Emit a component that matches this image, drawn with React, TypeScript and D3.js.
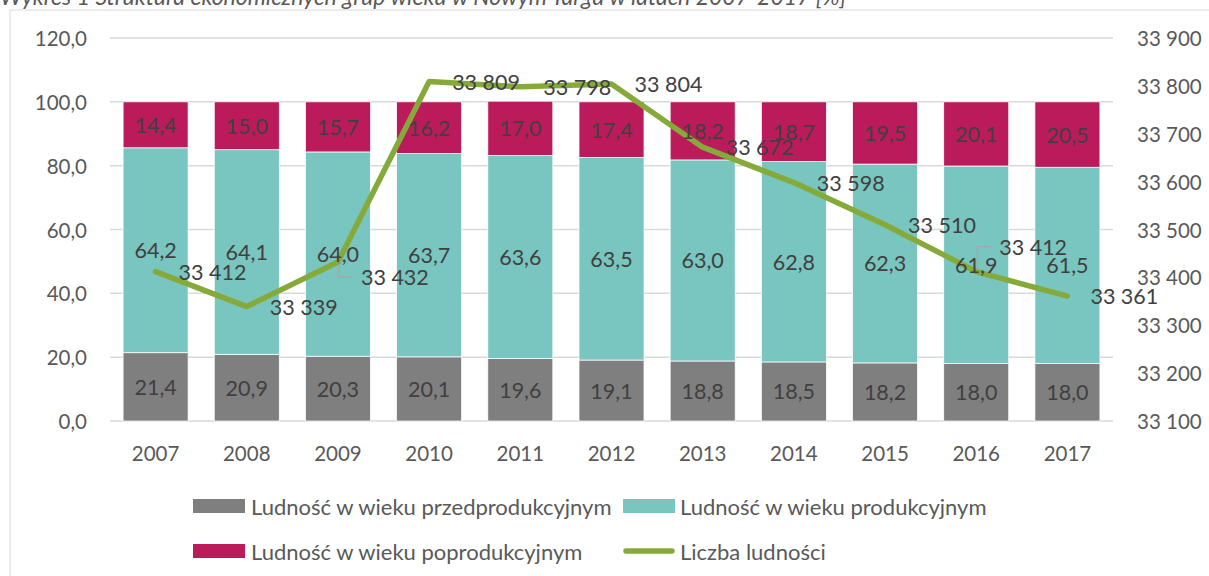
import React from "react";
import * as d3 from "d3";

const years = ["2007", "2008", "2009", "2010", "2011", "2012", "2013", "2014", "2015", "2016", "2017"];
const preProd = [21.4, 20.9, 20.3, 20.1, 19.6, 19.1, 18.8, 18.5, 18.2, 18.0, 18.0];
const prod = [64.2, 64.1, 64.0, 63.7, 63.6, 63.5, 63.0, 62.8, 62.3, 61.9, 61.5];
const postProd = [14.4, 15.0, 15.7, 16.2, 17.0, 17.4, 18.2, 18.7, 19.5, 20.1, 20.5];
const population = [33412, 33339, 33432, 33809, 33798, 33804, 33672, 33598, 33510, 33412, 33361];
const leftTicks = [0, 20, 40, 60, 80, 100, 120];
const rightTicks = [33100, 33200, 33300, 33400, 33500, 33600, 33700, 33800, 33900];
const seriesNames = [
  "Ludność w wieku przedprodukcyjnym",
  "Ludność w wieku produkcyjnym",
  "Ludność w wieku poprodukcyjnym",
  "Liczba ludności",
];
const title = "Wykres 1 Struktura ekonomicznych grup wieku w Nowym Targu w latach 2007-2017 [%]";

// label vertical shifts (Excel moved two labels manually)
const popLabelShift = [0, 0, 15, 0, 0, 0, 0, 0, 0, -25, 0];

const COLORS = ["#7f7f7f", "#79c5bf", "#bb1b5b"];
const LINE = "#86aa39";
const FONT = "Lato, 'Open Sans', sans-serif";

const fmtPct = (v: number) => d3.format(".1f")(v).replace(".", ",");
const fmtPop = (v: number) => d3.format(",")(v).replace(/,/g, " ");

export default function App() {
  const W = 1209;
  const H = 576;
  const x = d3.scaleBand<string>().domain(years).range([110, 1113]).paddingInner(0.287).paddingOuter(0.1435);
  const yL = d3.scaleLinear().domain([0, 120]).range([421, 38]);
  const yR = d3.scaleLinear().domain([33100, 33900]).range([421, 38]);

  const rows = years.map((yr, i) => ({ yr, a: preProd[i], b: prod[i], c: postProd[i] }));
  const stack = d3.stack<any>().keys(["a", "b", "c"])(rows);

  const line = d3
    .line<number>()
    .x((_, i) => (x(years[i]) as number) + x.bandwidth() / 2)
    .y((d) => yR(d));

  const fs = 20.5;
  const dfs = 21.5;
  const lfs = 22;

  return (
    <svg width={W} height={H} style={{ position: "absolute", left: 0, top: 0, fontFamily: FONT }}>
      <rect x={0} y={0} width={W} height={H} fill="#fff" />
      <text x={0} y={5} fontSize={23} fontStyle="italic" fill="#595959">
        {title}
      </text>
      <rect x={10} y={10} width={W + 20} height={H + 20} fill="none" stroke="#d9d9d9" strokeWidth={1} />

      {leftTicks.map((t) => (
        <g key={t}>
          <line x1={110} x2={1113} y1={yL(t)} y2={yL(t)} stroke="#d9d9d9" strokeWidth={1.5} />
          <text x={87} y={yL(t)} textAnchor="end" dominantBaseline="central" fontSize={fs} fill="#595959">
            {fmtPct(t)}
          </text>
        </g>
      ))}
      {rightTicks.map((t) => (
        <text key={t} x={1137} y={yR(t)} dominantBaseline="central" fontSize={fs} fill="#595959">
          {fmtPop(t)}
        </text>
      ))}
      {years.map((yr) => (
        <text
          key={yr}
          x={(x(yr) as number) + x.bandwidth() / 2}
          y={453}
          textAnchor="middle"
          dominantBaseline="central"
          fontSize={fs}
          fill="#595959"
        >
          {yr}
        </text>
      ))}

      {stack.map((s, si) => (
        <g key={si}>
          {s.map((d, i) => (
            <rect
              key={i}
              x={x(years[i])}
              width={x.bandwidth()}
              y={yL(d[1])}
              height={yL(d[0]) - yL(d[1])}
              fill={COLORS[si]}
              stroke="#fff"
              strokeWidth={0.75}
            />
          ))}
        </g>
      ))}

      <path d={line(population) || ""} fill="none" stroke={LINE} strokeWidth={5.5} strokeLinejoin="round" strokeLinecap="round" />

      {stack.map((s, si) => (
        <g key={"l" + si}>
          {s.map((d, i) => (
            <text
              key={i}
              x={(x(years[i]) as number) + x.bandwidth() / 2}
              y={(yL(d[0]) + yL(d[1])) / 2}
              textAnchor="middle"
              dominantBaseline="central"
              fontSize={dfs}
              fill="#404040"
            >
              {fmtPct(d[1] - d[0])}
            </text>
          ))}
        </g>
      ))}

      {population.map((v, i) => {
        const cx = (x(years[i]) as number) + x.bandwidth() / 2;
        const cy = yR(v);
        const sh = popLabelShift[i];
        const ly = cy + sh;
        return (
          <g key={"p" + i}>
            {sh !== 0 && (
              <path
                d={`M${cx + 1},${cy + (sh > 0 ? 2 : -3)}V${ly}H${cx + 14}`}
                fill="none"
                stroke="#a6a6a6"
                strokeWidth={1.2}
              />
            )}
            <text x={cx + 23} y={ly} dominantBaseline="central" fontSize={dfs} fill="#404040">
              {fmtPop(v)}
            </text>
          </g>
        );
      })}

      {/* legend */}
      <g fontSize={lfs} fill="#595959">
        <rect x={193} y={499} width={52} height={14} fill={COLORS[0]} />
        <text x={251} y={506} dominantBaseline="central">{seriesNames[0]}</text>
        <rect x={623} y={499} width={52} height={14} fill={COLORS[1]} />
        <text x={680} y={506} dominantBaseline="central">{seriesNames[1]}</text>
        <rect x={193} y={544} width={52} height={14} fill={COLORS[2]} />
        <text x={251} y={551} dominantBaseline="central">{seriesNames[2]}</text>
        <line x1={626} x2={672} y1={551} y2={551} stroke={LINE} strokeWidth={5.5} strokeLinecap="round" />
        <text x={680} y={551} dominantBaseline="central">{seriesNames[3]}</text>
      </g>
    </svg>
  );
}
